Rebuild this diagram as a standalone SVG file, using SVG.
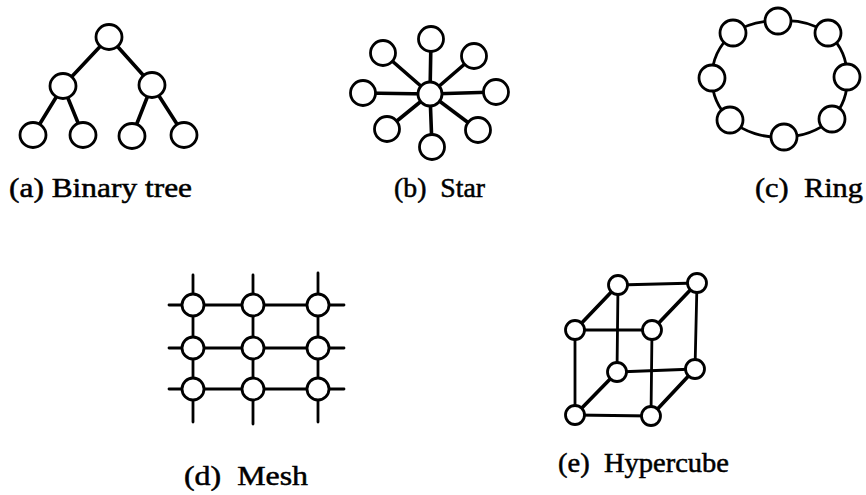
<svg xmlns="http://www.w3.org/2000/svg" width="866" height="495" viewBox="0 0 866 495">
  <style>
    .bg { fill: #ffffff; }
    .node { fill: #ffffff; stroke: #000000; stroke-width: 2.8; }
    .edge { fill: none; stroke: #000000; stroke-width: 3.6; stroke-linecap: round; }
    .thin { stroke-width: 2.8; }
    .label { font-family: "Liberation Serif", "Times New Roman", serif; font-size: 27px; fill: #000000; stroke: #000000; stroke-width: 0.5; }
  </style>
  <rect class="bg" x="0" y="0" width="866" height="495"/>

  <!-- (a) binary tree -->
  <g id="connectors-tree">
    <line class="edge" x1="109" y1="37" x2="63" y2="86"/>
    <line class="edge" x1="109" y1="37" x2="152" y2="85"/>
    <line class="edge" x1="63" y1="86" x2="33" y2="135"/>
    <line class="edge" x1="63" y1="86" x2="83" y2="135"/>
    <line class="edge" x1="152" y1="85" x2="132" y2="136"/>
    <line class="edge" x1="152" y1="85" x2="184" y2="135"/>
  </g>
  <g id="tree-root"><ellipse class="node" cx="109" cy="37" rx="13" ry="12.5"/></g>
  <g id="tree-l"><ellipse class="node" cx="63" cy="86" rx="13" ry="12.5"/></g>
  <g id="tree-r"><ellipse class="node" cx="152" cy="85" rx="13" ry="12.5"/></g>
  <g id="tree-ll"><ellipse class="node" cx="33" cy="135" rx="13" ry="12.5"/></g>
  <g id="tree-lr"><ellipse class="node" cx="83" cy="135" rx="13" ry="12.5"/></g>
  <g id="tree-rl"><ellipse class="node" cx="132" cy="136" rx="13" ry="12.5"/></g>
  <g id="tree-rr"><ellipse class="node" cx="184" cy="135" rx="13" ry="12.5"/></g>
  <text class="label" x="9" y="197" textLength="183" lengthAdjust="spacingAndGlyphs">(a) Binary tree</text>

  <!-- (b) star -->
  <g id="connectors-star">
    <line class="edge" x1="430" y1="94" x2="431" y2="39"/>
    <line class="edge" x1="430" y1="94" x2="474" y2="56"/>
    <line class="edge" x1="430" y1="94" x2="496" y2="92"/>
    <line class="edge" x1="430" y1="94" x2="478" y2="130"/>
    <line class="edge" x1="430" y1="94" x2="432" y2="147"/>
    <line class="edge" x1="430" y1="94" x2="387" y2="129"/>
    <line class="edge" x1="430" y1="94" x2="363" y2="93"/>
    <line class="edge" x1="430" y1="94" x2="383" y2="53"/>
  </g>
  <g id="star-hub"><circle class="node" cx="430" cy="94" r="12"/></g>
  <g id="star-n"><circle class="node" cx="431" cy="39" r="12.5"/></g>
  <g id="star-ne"><circle class="node" cx="474" cy="56" r="12.5"/></g>
  <g id="star-e"><circle class="node" cx="496" cy="92" r="12.5"/></g>
  <g id="star-se"><circle class="node" cx="478" cy="130" r="12.5"/></g>
  <g id="star-s"><circle class="node" cx="432" cy="147" r="12.5"/></g>
  <g id="star-sw"><circle class="node" cx="387" cy="129" r="12.5"/></g>
  <g id="star-w"><circle class="node" cx="363" cy="93" r="12.5"/></g>
  <g id="star-nw"><circle class="node" cx="383" cy="53" r="12.5"/></g>
  <text class="label" x="394" y="197" xml:space="preserve" textLength="91" lengthAdjust="spacingAndGlyphs">(b)  Star</text>

  <!-- (c) ring -->
  <g id="connectors-ring">
    <path class="edge thin" d="M778 21 A70 62 0 0 1 828 33"/>
    <path class="edge thin" d="M828 33 A70 62 0 0 1 847 77"/>
    <path class="edge thin" d="M847 77 A70 62 0 0 1 832 119"/>
    <path class="edge thin" d="M832 119 A70 62 0 0 1 784 137"/>
    <path class="edge thin" d="M784 137 A70 62 0 0 1 730 120"/>
    <path class="edge thin" d="M730 120 A70 62 0 0 1 712 78"/>
    <path class="edge thin" d="M712 78 A70 62 0 0 1 733 33"/>
    <path class="edge thin" d="M733 33 A70 62 0 0 1 778 21"/>
  </g>
  <g id="ring-1"><circle class="node" cx="778" cy="21" r="13"/></g>
  <g id="ring-2"><circle class="node" cx="828" cy="33" r="13"/></g>
  <g id="ring-3"><circle class="node" cx="847" cy="77" r="13"/></g>
  <g id="ring-4"><circle class="node" cx="832" cy="119" r="13"/></g>
  <g id="ring-5"><circle class="node" cx="784" cy="137" r="13"/></g>
  <g id="ring-6"><circle class="node" cx="730" cy="120" r="13"/></g>
  <g id="ring-7"><circle class="node" cx="712" cy="78" r="13"/></g>
  <g id="ring-8"><circle class="node" cx="733" cy="33" r="13"/></g>
  <text class="label" x="755" y="197" xml:space="preserve" textLength="108" lengthAdjust="spacingAndGlyphs">(c)  Ring</text>

  <!-- (d) mesh -->
  <g id="connectors-mesh">
    <line class="edge thin" x1="169" y1="305" x2="344" y2="305"/>
    <line class="edge thin" x1="169" y1="348" x2="344" y2="348"/>
    <line class="edge thin" x1="169" y1="389" x2="344" y2="389"/>
    <line class="edge thin" x1="193" y1="275" x2="193" y2="422"/>
    <line class="edge thin" x1="253" y1="275" x2="253" y2="424"/>
    <line class="edge thin" x1="318" y1="273" x2="318" y2="422"/>
  </g>
  <g id="mesh-11"><circle class="node" cx="193" cy="305" r="11"/></g>
  <g id="mesh-12"><circle class="node" cx="253" cy="305" r="11"/></g>
  <g id="mesh-13"><circle class="node" cx="318" cy="305" r="11"/></g>
  <g id="mesh-21"><circle class="node" cx="193" cy="348" r="11"/></g>
  <g id="mesh-22"><circle class="node" cx="253" cy="348" r="11"/></g>
  <g id="mesh-23"><circle class="node" cx="318" cy="348" r="11"/></g>
  <g id="mesh-31"><circle class="node" cx="193" cy="389" r="11"/></g>
  <g id="mesh-32"><circle class="node" cx="253" cy="389" r="11"/></g>
  <g id="mesh-33"><circle class="node" cx="318" cy="389" r="11"/></g>
  <text class="label" x="184" y="485" xml:space="preserve" textLength="124" lengthAdjust="spacingAndGlyphs">(d)  Mesh</text>

  <!-- (e) hypercube -->
  <g id="connectors-cube">
    <line class="edge thin" x1="618" y1="285" x2="697" y2="283"/>
    <line class="edge thin" x1="697" y1="283" x2="695" y2="369"/>
    <line class="edge thin" x1="695" y1="369" x2="617" y2="372"/>
    <line class="edge thin" x1="617" y1="372" x2="618" y2="285"/>
    <line class="edge thin" x1="575" y1="330" x2="652" y2="330"/>
    <line class="edge thin" x1="652" y1="330" x2="651" y2="416"/>
    <line class="edge thin" x1="651" y1="416" x2="575" y2="415"/>
    <line class="edge thin" x1="575" y1="415" x2="575" y2="330"/>
    <line class="edge" x1="575" y1="330" x2="618" y2="285"/>
    <line class="edge" x1="652" y1="330" x2="697" y2="283"/>
    <line class="edge" x1="575" y1="415" x2="617" y2="372"/>
    <line class="edge" x1="651" y1="416" x2="695" y2="369"/>
  </g>
  <g id="cube-btl"><circle class="node" cx="618" cy="285" r="9.5"/></g>
  <g id="cube-btr"><circle class="node" cx="697" cy="283" r="9.5"/></g>
  <g id="cube-bbl"><circle class="node" cx="617" cy="372" r="9.5"/></g>
  <g id="cube-bbr"><circle class="node" cx="695" cy="369" r="9.5"/></g>
  <g id="cube-ftl"><circle class="node" cx="575" cy="330" r="9.5"/></g>
  <g id="cube-ftr"><circle class="node" cx="652" cy="330" r="9.5"/></g>
  <g id="cube-fbl"><circle class="node" cx="575" cy="415" r="9.5"/></g>
  <g id="cube-fbr"><circle class="node" cx="651" cy="416" r="9.5"/></g>
  <text class="label" x="558" y="472" xml:space="preserve" textLength="171" lengthAdjust="spacingAndGlyphs">(e)  Hypercube</text>
</svg>
